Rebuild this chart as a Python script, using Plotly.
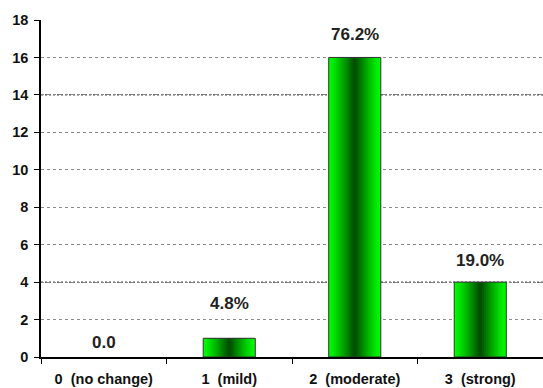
import plotly.graph_objects as go

# Response categories and counts
categories = ["0  (no change)", "1  (mild)", "2  (moderate)", "3  (strong)"]
counts = [0, 1, 16, 4]
value_labels = ["0.0", "4.8%", "76.2%", "19.0%"]

# pixel lift of each value label above its bar top
label_lift = [15, 35, 23, 22]

FONT = "Liberation Sans, Arial, sans-serif"
BAR_WIDTH = 0.415
N_LAYERS = 14

fig = go.Figure()

# empty categories get no outline
edge_widths = [1 if v > 0 else 0 for v in counts]

# Horizontal green shading: stacked overlays, each narrower and darker
light = (0, 250, 0)
dark = (0, 80, 0)
for k in range(N_LAYERS):
    t = (k / (N_LAYERS - 1)) ** 1.2
    c = tuple(int(round(light[i] + (dark[i] - light[i]) * t)) for i in range(3))
    w = BAR_WIDTH * (1 - k / N_LAYERS)
    fig.add_trace(go.Bar(
        x=categories, y=counts, width=w,
        marker=dict(color=f"rgb{c}", line=dict(width=0)),
        hoverinfo="skip", showlegend=False,
    ))

# outline drawn on top of the shading
fig.add_trace(go.Bar(
    x=categories, y=counts, width=BAR_WIDTH,
    marker=dict(color="rgba(0,0,0,0)",
                line=dict(color="#333333", width=edge_widths)),
    hoverinfo="skip", showlegend=False,
))

for cat, val, lab, lift in zip(categories, counts, value_labels, label_lift):
    fig.add_annotation(x=cat, y=val, text=f"<b>{lab}</b>", showarrow=False,
                       yshift=lift, font=dict(family=FONT, size=17, color="#222222"))

# darker grid lines at 4 and 14
for yv in (4, 14):
    fig.add_shape(type="line", xref="paper", yref="y", x0=0, x1=1, y0=yv, y1=yv,
                  line=dict(color="#111111", width=1, dash="2px,2px"), layer="below")

fig.update_layout(
    width=543, height=388,
    margin=dict(l=41, r=0, t=20, b=31),
    barmode="overlay",
    plot_bgcolor="white", paper_bgcolor="white",
    font=dict(family=FONT, size=14, color="#111111"),
)
fig.update_xaxes(
    showline=True, linecolor="black", linewidth=1.5,
    ticks="outside", tickson="boundaries", ticklen=5, tickcolor="black",
    tickfont=dict(family=FONT, size=14.5, color="#111111", weight="bold"),
    ticklabelstandoff=8, showgrid=False,
)
fig.update_yaxes(
    range=[0, 18], dtick=2, showline=True, linecolor="black", linewidth=1.5,
    ticks="outside", ticklen=5, tickcolor="black",
    tickfont=dict(family=FONT, size=14.5, color="#111111", weight="bold"),
    ticklabelstandoff=3,
    showgrid=True, gridcolor="#8a8a8a", griddash="3px,3px", gridwidth=1,
    zeroline=False,
)

fig.write_html("out.html")
